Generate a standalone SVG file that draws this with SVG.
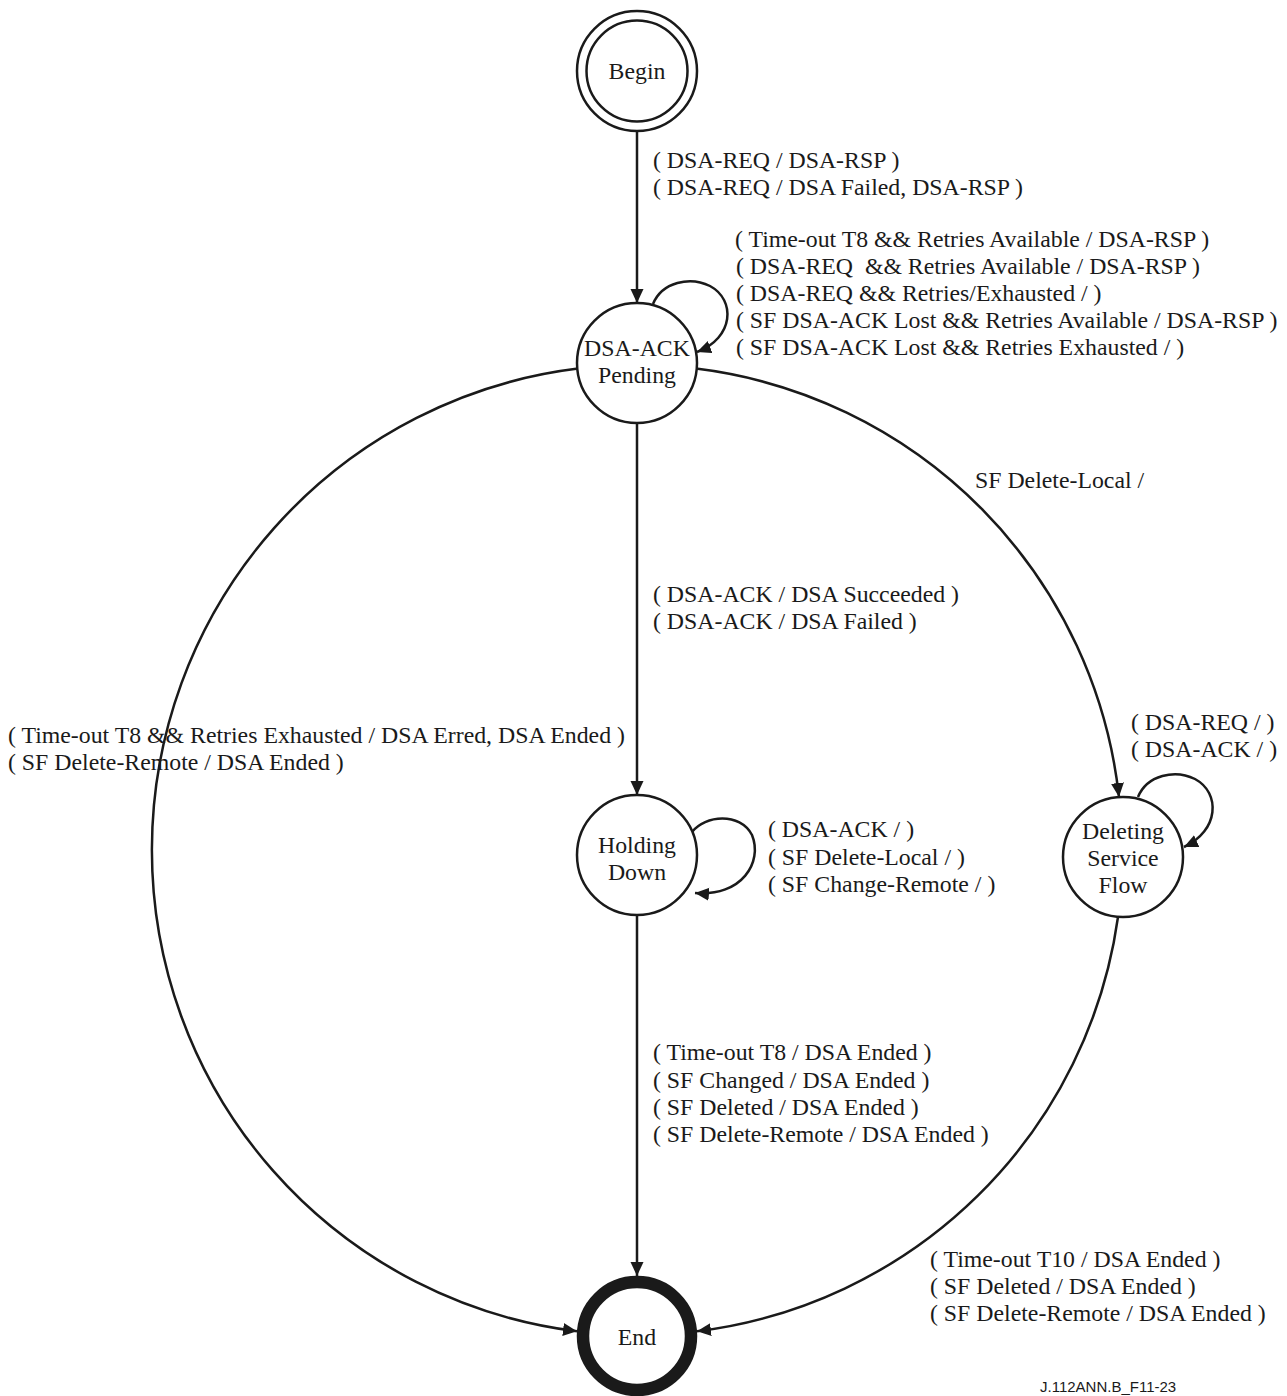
<svg xmlns="http://www.w3.org/2000/svg" width="1287" height="1396" viewBox="0 0 1287 1396">
<style>
.n{fill:#fff;stroke:#1a1a1a;stroke-width:2.5}
.c{fill:none;stroke:#1a1a1a;stroke-width:2.5}
text{font-family:"Liberation Serif","Times New Roman",serif;font-size:23.8px;fill:#1a1a1a}
.m{text-anchor:middle}
.f{font-family:"Liberation Sans",Arial,sans-serif;font-size:15px}
</style>
<defs>
<marker id="ah" markerUnits="userSpaceOnUse" markerWidth="16" markerHeight="14" refX="14" refY="6.5" orient="auto">
<path d="M0,0 L14,6.5 L0,13 z" fill="#1a1a1a"/>
</marker>
</defs>
<rect width="1287" height="1396" fill="#fff"/>
<g id="connectors">
<line class="c" x1="637" y1="131" x2="637" y2="303" marker-end="url(#ah)"/>
<line class="c" x1="637" y1="423" x2="637" y2="795" marker-end="url(#ah)"/>
<line class="c" x1="637" y1="915" x2="637" y2="1276" marker-end="url(#ah)"/>
<path class="c" d="M578,368.6 A485,485 0 0 0 577,1331.3" marker-end="url(#ah)"/>
<path class="c" d="M696,368.6 A485,485 0 0 1 1119,797" marker-end="url(#ah)"/>
<path class="c" d="M1118,917 A485,485 0 0 1 697,1331.3" marker-end="url(#ah)"/>
<path class="c" d="M653,304 C662,282 690,276 710,286 C736,300 734,338 697,352" marker-end="url(#ah)"/>
<path class="c" d="M692,832 C705,815 740,812 752,835 C763,862 742,897 695,893" marker-end="url(#ah)"/>
<path class="c" d="M1138,797 C1147,775 1175,769 1195,779 C1221,793 1219,831 1184,847" marker-end="url(#ah)"/>
</g>
<g id="begin">
<circle class="n" cx="637" cy="71" r="60"/>
<circle class="n" cx="637" cy="71" r="50.5"/>
<text class="m" x="637" y="79">Begin</text>
</g>
<g id="dsa-ack-pending">
<circle class="n" cx="637" cy="363" r="60"/>
<text class="m" x="637" y="356">DSA-ACK</text>
<text class="m" x="637" y="383">Pending</text>
</g>
<g id="holding-down">
<circle class="n" cx="637" cy="855" r="60"/>
<text class="m" x="637" y="853">Holding</text>
<text class="m" x="637" y="880">Down</text>
</g>
<g id="deleting-service-flow">
<circle class="n" cx="1123" cy="857" r="60"/>
<text class="m" x="1123" y="839">Deleting</text>
<text class="m" x="1123" y="866">Service</text>
<text class="m" x="1123" y="893">Flow</text>
</g>
<g id="end">
<circle cx="637" cy="1336" r="54" fill="#fff" stroke="#1a1a1a" stroke-width="12.5"/>
<text class="m" x="637" y="1345">End</text>
</g>
<g id="labels">
<text x="653" y="168">( DSA-REQ / DSA-RSP )</text>
<text x="653" y="195">( DSA-REQ / DSA Failed, DSA-RSP )</text>
<text x="735" y="247">( Time-out T8 &amp;&amp; Retries Available / DSA-RSP )</text>
<text x="736" y="274" xml:space="preserve">( DSA-REQ  &amp;&amp; Retries Available / DSA-RSP )</text>
<text x="736" y="301">( DSA-REQ &amp;&amp; Retries/Exhausted / )</text>
<text x="736" y="328">( SF DSA-ACK Lost &amp;&amp; Retries Available / DSA-RSP )</text>
<text x="736" y="355">( SF DSA-ACK Lost &amp;&amp; Retries Exhausted / )</text>
<text x="975" y="488">SF Delete-Local /</text>
<text x="653" y="602">( DSA-ACK / DSA Succeeded )</text>
<text x="653" y="629">( DSA-ACK / DSA Failed )</text>
<text x="8" y="743">( Time-out T8 &amp;&amp; Retries Exhausted / DSA Erred, DSA Ended )</text>
<text x="8" y="770">( SF Delete-Remote / DSA Ended )</text>
<text x="1131" y="730">( DSA-REQ / )</text>
<text x="1131" y="757">( DSA-ACK / )</text>
<text x="768" y="837">( DSA-ACK / )</text>
<text x="768" y="865">( SF Delete-Local / )</text>
<text x="768" y="892">( SF Change-Remote / )</text>
<text x="653" y="1060">( Time-out T8 / DSA Ended )</text>
<text x="653" y="1088">( SF Changed / DSA Ended )</text>
<text x="653" y="1115">( SF Deleted / DSA Ended )</text>
<text x="653" y="1142">( SF Delete-Remote / DSA Ended )</text>
<text x="930" y="1267">( Time-out T10 / DSA Ended )</text>
<text x="930" y="1294">( SF Deleted / DSA Ended )</text>
<text x="930" y="1321">( SF Delete-Remote / DSA Ended )</text>
<text class="f" x="1040" y="1392">J.112ANN.B_F11-23</text>
</g>
</svg>
